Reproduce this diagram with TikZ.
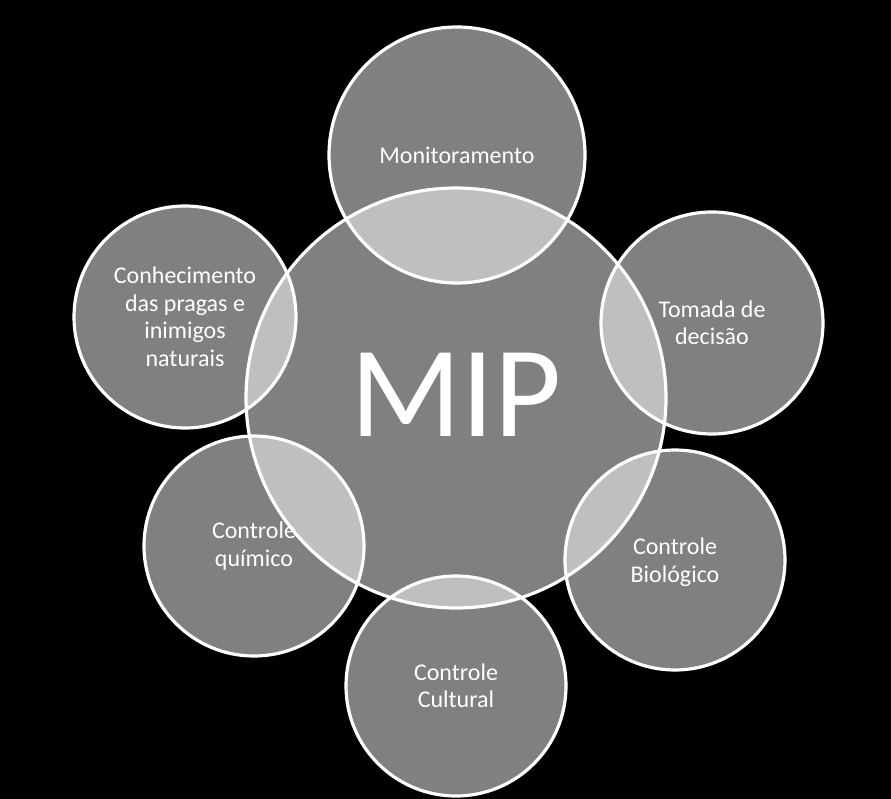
\documentclass[tikz,border=0pt]{standalone}
\usepackage{fontspec}
\setmainfont{Carlito}
\begin{document}
\begin{tikzpicture}[x=1pt,y=-1pt,
  bub/.style={circle,inner sep=0pt,fill=white,fill opacity=0.5,text opacity=1,text=white,align=center,
    font=\fontsize{24}{27.5}\selectfont},
  ring/.style={draw=white,line width=3.2pt}]
\fill[black] (0,0) rectangle (891,799);
\useasboundingbox (0,0) rectangle (891,799);
% central
\node[bub,minimum size=420pt] (mip) at (456,398) {};
\node[text=white,font=\fontsize{130}{130}\selectfont,inner sep=0pt] (miplbl) at (456,395) {MIP};
% outer circles
\node[bub,minimum size=256pt] (mon) at (457,155) {Monitoramento};
\node[bub,minimum size=222pt] (tom) at (712,323) {Tomada de\\decisão};
\node[bub,minimum size=220pt] (bio) at (675,560) {};
\node[text=white,align=center,font=\fontsize{24}{27.5}\selectfont] (biolbl) at (675,562) {Controle\\Biológico};
\node[bub,minimum size=220pt] (cul) at (456,686) {Controle\\Cultural};
\node[bub,minimum size=220pt] (qui) at (254,546) {Controle\\químico};
\node[bub,minimum size=222pt] (con) at (185,317) {Conhecimento\\das pragas e\\inimigos\\naturais};
% outlines
\draw[ring] (mip.center) circle (210);
\draw[ring] (mon.center) circle (128);
\draw[ring] (tom.center) circle (111);
\draw[ring] (bio.center) circle (110);
\draw[ring] (cul.center) circle (110);
\draw[ring] (qui.center) circle (110);
\draw[ring] (con.center) circle (111);
\end{tikzpicture}
\end{document}
